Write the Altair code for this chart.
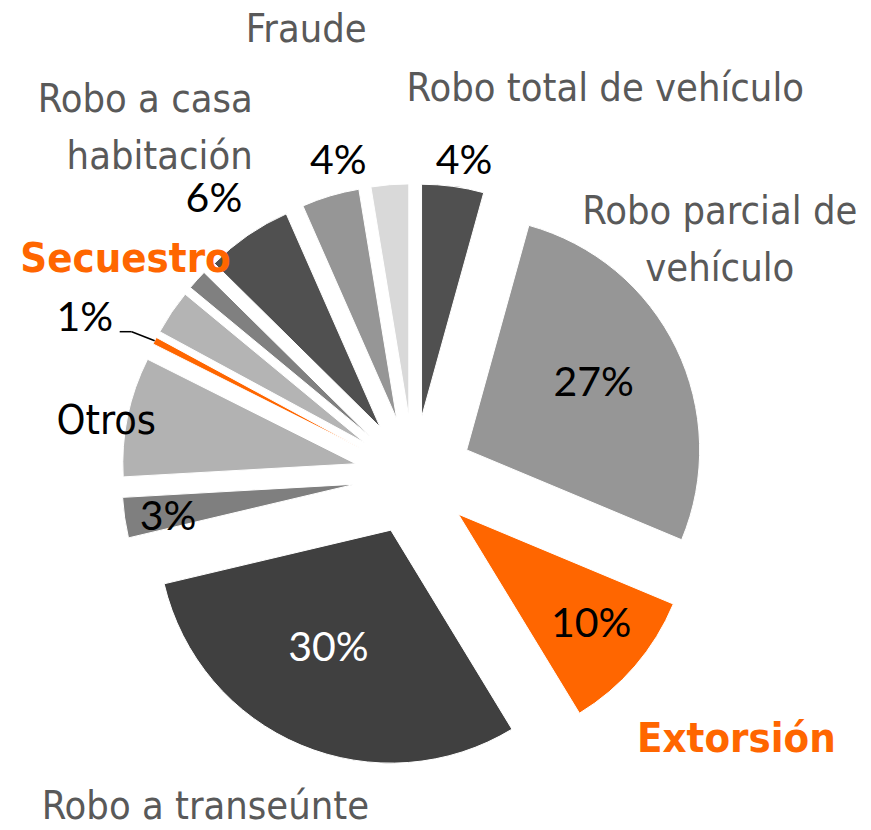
import altair as alt
import pandas as pd

# ---------------- data ----------------
categories = ["Robo total de vehículo", "Robo parcial de vehículo", "Extorsión",
              "Robo a transeúnte", "Otro delito 1", "Otros", "Secuestro",
              "Otro delito 2", "Otro delito 3", "Robo a casa habitación", "Fraude",
              "Otro delito 4"]
shares = [4.3, 27.0, 10.0, 30.0, 2.8, 8.3, 0.5, 3.1, 1.4, 6.0, 4.0, 2.6]
label_text = ["Robo total de vehículo", "Robo parcial de\nvehículo", "Extorsión",
              "Robo a transeúnte", "", "Otros", "Secuestro", "", "",
              "Robo a casa\nhabitación", "Fraude", ""]
show_pct = [True, True, True, True, True, False, True, False, False, True, True, False]

# ---------------- styles ----------------
slice_colors = ["#505050", "#969696", "#FF6600", "#404040", "#7F7F7F", "#B2B2B2",
                "#FF6600", "#B4B4B4", "#808080", "#505050", "#969696", "#D9D9D9"]
pct_colors = ["#000000", "#000000", "#000000", "#FFFFFF", "#000000", "#000000",
              "#000000", "#000000", "#000000", "#000000", "#000000", "#000000"]
pct_radius = [318, 202, 232, 193, 249, 0, 364, 0, 0, 340, 323, 0]
pct_turn = [1.4, -1.0, -0.6, 3.5, -1.4, 0, -2.1, 0, 0, -1.4, 3.1, 0]
label_radius = [432, 404, 417, 391, 0, 312, 360, 0, 0, 409, 458, 0]
label_turn = [18.6, -14.8, -1.4, 9.5, 0, -1.8, 9.3, 0, 0, 11.4, 3.0, 0]
label_group = ["gray", "gray", "accent", "gray", "", "dark", "accent", "", "",
               "gray_right", "gray", ""]
leader = [False, False, False, False, False, False, True, False, False, False, False, False]

CX, CY = 405.6, 467.7      # pie centre inside the view
RADIUS = 233
EXPLODE = 59
NARROW = "DejaVu Sans Condensed"
PCTFONT = "Lato"
LABEL_GRAY = "#595959"
ACCENT = "#FF6600"

df = pd.DataFrame({
    "idx": list(range(len(categories))),
    "category": categories,
    "share": shares,
    "label": label_text,
    "show_pct": show_pct,
    "color": slice_colors,
    "pct_color": pct_colors,
    "pct_r": pct_radius,
    "pct_turn": pct_turn,
    "lab_r": label_radius,
    "lab_turn": label_turn,
    "lab_group": label_group,
    "leader": leader,
})

base = (
    alt.Chart(df)
    .transform_window(cum="sum(share)", sort=[alt.SortField("idx")], frame=[None, 0])
    .transform_joinaggregate(total="sum(share)")
    .transform_calculate(
        t0="2*PI*(datum.cum - datum.share)/datum.total",
        t1="2*PI*datum.cum/datum.total",
    )
    .transform_calculate(mid="(datum.t0 + datum.t1)/2")
    .transform_calculate(
        px=f"{CX} + {EXPLODE}*sin(datum.mid)",
        py=f"{CY} - {EXPLODE}*cos(datum.mid)",
        pa="datum.mid + datum.pct_turn*PI/180",
        la="datum.mid + datum.lab_turn*PI/180",
        pct_text="round(datum.share) + '%'",
    )
    .transform_calculate(
        ptx=f"{CX} + datum.pct_r*sin(datum.pa)",
        pty=f"{CY} - datum.pct_r*cos(datum.pa)",
        ltx=f"{CX} + datum.lab_r*sin(datum.la)",
        lty=f"{CY} - datum.lab_r*cos(datum.la)",
        ox=f"datum.px + {RADIUS}*sin(datum.mid)",
        oy=f"datum.py - {RADIUS}*cos(datum.mid)",
    )
    .transform_calculate(
        ex="datum.ox - 23",
        ey="datum.oy - 9",
        fx="datum.ox - 35",
    )
)

arcs = base.mark_arc(radius=RADIUS, stroke="white", strokeWidth=1).encode(
    theta=alt.Theta("t0:Q", scale=None, stack=None),
    theta2=alt.Theta2("t1:Q"),
    x=alt.X("px:Q", scale=None),
    y=alt.Y("py:Q", scale=None),
    color=alt.Color("color:N", scale=None),
)

lead1 = base.transform_filter("datum.leader").mark_rule(color="black", strokeWidth=1.5).encode(
    x=alt.X("ox:Q", scale=None), y=alt.Y("oy:Q", scale=None),
    x2=alt.X2("ex:Q"), y2=alt.Y2("ey:Q"),
)
lead2 = base.transform_filter("datum.leader").mark_rule(color="black", strokeWidth=1.5).encode(
    x=alt.X("ex:Q", scale=None), y=alt.Y("ey:Q", scale=None),
    x2=alt.X2("fx:Q"), y2=alt.Y2("ey:Q"),
)

pct = base.transform_filter("datum.show_pct").mark_text(
    font=PCTFONT, fontSize=41, baseline="middle", align="center"
).encode(
    x=alt.X("ptx:Q", scale=None), y=alt.Y("pty:Q", scale=None),
    text="pct_text:N",
    color=alt.Color("pct_color:N", scale=None),
)

def label_layer(group, color, align="center", weight="normal", size=39.5):
    return base.transform_filter(f"datum.lab_group == '{group}'").mark_text(
        font=NARROW, fontSize=size, baseline="middle", align=align,
        lineBreak="\n", lineHeight=57, color=color, fontWeight=weight,
    ).encode(
        x=alt.X("ltx:Q", scale=None), y=alt.Y("lty:Q", scale=None),
        text="label:N",
    )

labels_gray = label_layer("gray", LABEL_GRAY)
labels_right = label_layer("gray_right", LABEL_GRAY, align="right")
labels_dark = label_layer("dark", "#000000", size=41)
labels_accent = label_layer("accent", ACCENT, weight="bold", size=41.5)

chart = alt.layer(
    arcs, lead1, lead2, pct, labels_gray, labels_right, labels_dark, labels_accent
).properties(
    width=855, height=814, padding=0,
    autosize=alt.AutoSizeParams(type="none"),
    background="white",
).configure_view(stroke=None)

chart.save("out.html", embed_options={"renderer": "svg", "actions": False})
